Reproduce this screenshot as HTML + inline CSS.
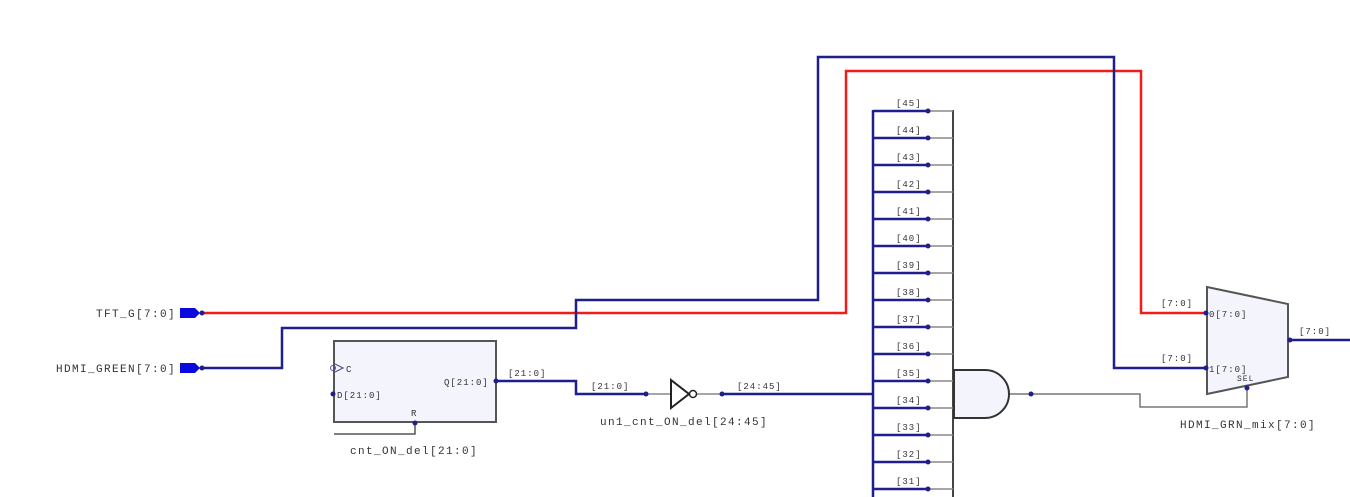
<!DOCTYPE html>
<html><head><meta charset="utf-8"><style>
html,body{margin:0;padding:0;background:#fff;}
svg{display:block;}
text{font-family:"Liberation Mono","DejaVu Sans Mono",monospace;font-size:11px;fill:#333;letter-spacing:1.4px;}
text.s{font-size:9px;letter-spacing:1px;}
</style></head><body>
<svg width="1350" height="497" viewBox="0 0 1350 497" xmlns="http://www.w3.org/2000/svg">
<g fill="none" stroke-linejoin="miter">
<polyline points="203,313 846,313 846,71 1141,71 1141,313 1207,313" stroke="#f01c1c" stroke-width="2.5"/>
<polyline points="203,368 282,368 282,328 576,328 576,300 818,300 818,57 1114,57 1114,368 1207,368" stroke="#1e1e8c" stroke-width="2.5"/>
<polyline points="496,381 576,381 576,394 646,394" stroke="#1e1e8c" stroke-width="2.5"/>
<line x1="646" y1="394" x2="670" y2="394" stroke="#888" stroke-width="1.5"/>
<line x1="697" y1="394" x2="722" y2="394" stroke="#888" stroke-width="1.5"/>
<line x1="722" y1="394" x2="873" y2="394" stroke="#1e1e8c" stroke-width="2.5"/>
<line x1="873" y1="110" x2="873" y2="497" stroke="#1e1e8c" stroke-width="2.5"/>
<line x1="953" y1="110" x2="953" y2="497" stroke="#444" stroke-width="2"/>
<polyline points="1008,394 1140,394 1140,407 1247,407 1247,388" stroke="#777" stroke-width="1.5"/>
<polyline points="334,434 415,434 415,423" stroke="#555" stroke-width="1.5"/>
<line x1="1288" y1="340" x2="1350" y2="340" stroke="#1e1e8c" stroke-width="2.5"/>
</g>
<g>
<path d="M873 111H928M873 138H928M873 165H928M873 192H928M873 219H928M873 246H928M873 273H928M873 300H928M873 327H928M873 354H928M873 381H928M873 408H928M873 435H928M873 462H928M873 489H928" stroke="#1e1e8c" stroke-width="2.5"/>
<path d="M928 111H953M928 138H953M928 165H953M928 192H953M928 219H953M928 246H953M928 273H953M928 300H953M928 327H953M928 354H953M928 381H953M928 408H953M928 435H953M928 462H953M928 489H953" stroke="#888" stroke-width="1.5"/>
<g fill="#1e1e8c">
<circle cx="928" cy="111" r="2.5"/><circle cx="928" cy="138" r="2.5"/><circle cx="928" cy="165" r="2.5"/><circle cx="928" cy="192" r="2.5"/><circle cx="928" cy="219" r="2.5"/><circle cx="928" cy="246" r="2.5"/><circle cx="928" cy="273" r="2.5"/><circle cx="928" cy="300" r="2.5"/><circle cx="928" cy="327" r="2.5"/><circle cx="928" cy="354" r="2.5"/><circle cx="928" cy="381" r="2.5"/><circle cx="928" cy="408" r="2.5"/><circle cx="928" cy="435" r="2.5"/><circle cx="928" cy="462" r="2.5"/><circle cx="928" cy="489" r="2.5"/>
</g>
<g>
<text class="s" x="896" y="106">[45]</text><text class="s" x="896" y="133">[44]</text><text class="s" x="896" y="160">[43]</text><text class="s" x="896" y="187">[42]</text><text class="s" x="896" y="214">[41]</text><text class="s" x="896" y="241">[40]</text><text class="s" x="896" y="268">[39]</text><text class="s" x="896" y="295">[38]</text><text class="s" x="896" y="322">[37]</text><text class="s" x="896" y="349">[36]</text><text class="s" x="896" y="376">[35]</text><text class="s" x="896" y="403">[34]</text><text class="s" x="896" y="430">[33]</text><text class="s" x="896" y="457">[32]</text><text class="s" x="896" y="484">[31]</text>
</g>
</g>
<path d="M954,370 H985 A24,24 0 0 1 985,418 H954 Z" fill="#f3f4fc" stroke="#333" stroke-width="2"/>
<circle cx="1031" cy="394" r="2.5" fill="#1e1e8c"/>
<path d="M180,308 H195 L200,313 L195,318 H180 Z" fill="#0a0ae0"/>
<circle cx="202" cy="313" r="2.5" fill="#1e1e8c"/>
<path d="M180,363 H195 L200,368 L195,373 H180 Z" fill="#0a0ae0"/>
<circle cx="202" cy="368" r="2.5" fill="#1e1e8c"/>
<text x="176" y="317" text-anchor="end">TFT_G[7:0]</text>
<text x="176" y="372" text-anchor="end">HDMI_GREEN[7:0]</text>
<rect x="334" y="341" width="162" height="81" fill="#f3f4fc" stroke="#555" stroke-width="2"/>
<path d="M335,364 L343,368 L335,372" fill="none" stroke="#5050a0" stroke-width="1.2"/>
<circle cx="333" cy="368" r="2.5" fill="none" stroke="#5050a0"/>
<circle cx="333" cy="394" r="2.5" fill="#1e1e8c"/>
<circle cx="496" cy="381" r="2.5" fill="#1e1e8c"/>
<circle cx="415" cy="423" r="2.5" fill="#1e1e8c"/>
<text class="s" x="346" y="372">C</text>
<text class="s" x="337" y="398">D[21:0]</text>
<text class="s" x="444" y="385">Q[21:0]</text>
<text class="s" x="411" y="416">R</text>
<text x="350" y="454">cnt_ON_del[21:0]</text>
<text class="s" x="508" y="376">[21:0]</text>
<text class="s" x="591" y="389">[21:0]</text>
<text class="s" x="737" y="389">[24:45]</text>
<path d="M671,380 L689,394 L671,408 Z" fill="#fff" stroke="#222" stroke-width="2"/>
<circle cx="693" cy="394" r="3.5" fill="#fff" stroke="#222" stroke-width="1.5"/>
<circle cx="646" cy="394" r="2.5" fill="#1e1e8c"/>
<circle cx="722" cy="394" r="2.5" fill="#1e1e8c"/>
<text x="600" y="425">un1_cnt_ON_del[24:45]</text>
<path d="M1207,287 L1288,304 L1288,377 L1207,394 Z" fill="#f3f4fc" stroke="#555" stroke-width="2"/>
<circle cx="1206" cy="313" r="2.5" fill="#1e1e8c"/>
<circle cx="1206" cy="368" r="2.5" fill="#1e1e8c"/>
<circle cx="1247" cy="388" r="2.5" fill="#1e1e8c"/>
<circle cx="1290" cy="340" r="2.5" fill="#1e1e8c"/>
<text class="s" x="1161" y="306">[7:0]</text>
<text class="s" x="1161" y="361">[7:0]</text>
<text class="s" x="1209" y="317">0[7:0]</text>
<text class="s" x="1209" y="372">1[7:0]</text>
<text class="s" x="1237" y="381" style="font-size:8px">SEL</text>
<text class="s" x="1299" y="334">[7:0]</text>
<text x="1180" y="428">HDMI_GRN_mix[7:0]</text>
</svg>
</body></html>
